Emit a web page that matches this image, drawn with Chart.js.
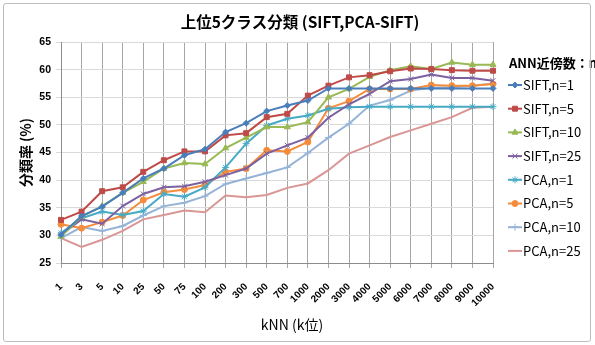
<!DOCTYPE html>
<html>
<head>
<meta charset="utf-8">
<script src="https://cdn.jsdelivr.net/npm/chart.js@4/dist/chart.umd.min.js"></script>
<style>
  html, body { margin: 0; padding: 0; background: #fff; }
  #wrap { position: relative; width: 595px; height: 345px; }
  #frame { position: absolute; left: 3px; top: 3px; width: 586px; height: 337px; border: 1px solid #bdbdbd; border-radius: 3px; pointer-events: none; }
  canvas { position: absolute; left: 0; top: 0; }
</style>
</head>
<body>
<div id="wrap">
  <canvas id="c" width="595" height="345"></canvas>
  <div id="frame"></div>
</div>
<script>
const categories = ['1', '3', '5', '10', '25', '50', '75', '100', '200', '300', '500', '700', '1000', '2000', '3000', '4000', '5000', '6000', '7000', '8000', '9000', '10000'];

const siftN1 = [30.1, 33.5, 35.2, 37.7, 40.3, 42.1, 44.5, 45.6, 48.7, 50.3, 52.5, 53.5, 54.4, 56.6, 56.6, 56.6, 56.6, 56.6, 56.6, 56.6, 56.6, 56.6];
const siftN5 = [32.8, 34.3, 38.0, 38.7, 41.5, 43.6, 45.2, 45.2, 48.1, 48.5, 51.4, 52.0, 55.3, 57.1, 58.6, 59.0, 59.7, 60.2, 60.1, 59.9, 59.8, 59.8];
const siftN10 = [29.8, 33.4, 35.3, 37.7, 39.7, 42.1, 43.1, 42.9, 45.8, 47.7, 49.6, 49.6, 50.5, 55.0, 56.5, 58.7, 59.9, 60.6, 60.1, 61.3, 60.9, 60.9];
const siftN25 = [30.1, 32.9, 32.1, 35.3, 37.5, 38.7, 38.9, 39.7, 40.9, 42.1, 44.8, 46.3, 47.7, 51.3, 53.7, 55.6, 57.9, 58.3, 59.1, 58.5, 58.5, 58.0];
const pcaN1 = [30.4, 33.1, 34.3, 33.7, 34.4, 37.5, 37.0, 38.7, 42.3, 46.6, 49.9, 51.1, 51.7, 52.9, 53.2, 53.3, 53.3, 53.3, 53.3, 53.3, 53.3, 53.3];
const pcaN5 = [32.0, 31.3, 32.4, 33.6, 36.4, 37.8, 38.3, 39.1, 41.5, 42.1, 45.4, 45.2, 46.9, 53.0, 54.3, 56.5, 56.5, 56.5, 57.2, 57.1, 57.1, 57.4];
const pcaN10 = [29.5, 31.5, 30.8, 31.7, 33.6, 35.3, 35.9, 37.1, 39.3, 40.3, 41.3, 42.3, 44.9, 47.7, 50.2, 53.5, 54.5, 56.2, 56.7, 56.8, 57.1, 57.5];
const pcaN25 = [29.5, 27.9, 29.2, 30.8, 32.9, 33.7, 34.5, 34.2, 37.2, 36.9, 37.3, 38.6, 39.4, 41.8, 44.8, 46.3, 47.8, 49.0, 50.2, 51.4, 53.1, 53.3];

const yMin = 25, yMax = 65, yStep = 5;

const seriesDefs = [
  { label: 'SIFT,n=1', data: siftN1, color: '#4a7ebb', point: 'rectRot', radius: 3 },
  { label: 'SIFT,n=5', data: siftN5, color: '#be4b48', point: 'rect', radius: 3.5 },
  { label: 'SIFT,n=10', data: siftN10, color: '#98b954', point: 'triangle', radius: 3.5 },
  { label: 'SIFT,n=25', data: siftN25, color: '#7d60a0', point: 'crossRot', radius: 3.5 },
  { label: 'PCA,n=1', data: pcaN1, color: '#46aac5', point: 'star', radius: 3.5 },
  { label: 'PCA,n=5', data: pcaN5, color: '#f58c3c', point: 'circle', radius: 3 },
  { label: 'PCA,n=10', data: pcaN10, color: '#95b3d7', point: 'cross', radius: 3.5 },
  { label: 'PCA,n=25', data: pcaN25, color: '#d99694', point: 'circle', radius: 0 },
];

// Excel-style legend on the right, plus the chart title and x axis title,
// which Excel centres on the whole chart rather than on the plot area
const sideLegend = {
  id: 'sideLegend',
  afterDraw(chart) {
    const ctx = chart.ctx;
    const x0 = 500, y0 = 63, rowH = 23.7;
    ctx.save();
    ctx.fillStyle = '#000';
    ctx.textBaseline = 'middle';
    ctx.font = 'bold 13px "Noto Sans CJK JP"';
    ctx.fillText('ANN近傍数：n', x0 + 9, y0);
    ctx.font = '13px "Noto Sans CJK JP"';
    chart.data.datasets.forEach((ds, i) => {
      const y = y0 + 22 + i * rowH;
      ctx.strokeStyle = ds.borderColor;
      ctx.lineWidth = 2;
      ctx.beginPath();
      ctx.moveTo(x0 + 8, y);
      ctx.lineTo(x0 + 22, y);
      ctx.stroke();
      if (ds.pointRadius > 0) {
        ctx.fillStyle = ds.borderColor;
        ctx.lineWidth = 1;
        Chart.helpers.drawPoint(ctx, { pointStyle: ds.pointStyle, radius: ds.pointRadius, rotation: 0, borderWidth: 1 }, x0 + 15, y);
      }
      ctx.fillStyle = '#000';
      ctx.fillText(ds.label, x0 + 23, y);
    });
    ctx.textAlign = 'center';
    ctx.font = '14px "Noto Sans CJK JP"';
    ctx.fillText('kNN (k位)', 292, 325);
    ctx.font = 'bold 15.5px "Noto Sans CJK JP"';
    ctx.fillText('上位5クラス分類 (SIFT,PCA-SIFT)', 300, 22);
    ctx.restore();
  },
};

new Chart(document.getElementById('c'), {
  type: 'line',
  data: {
    labels: categories,
    datasets: seriesDefs.map(s => ({
      label: s.label,
      data: s.data,
      borderColor: s.color,
      backgroundColor: s.color,
      pointStyle: s.point,
      pointRadius: s.radius,
      pointBorderWidth: 1,
      borderWidth: 2,
      tension: 0,
    })),
  },
  options: {
    responsive: false,
    animation: false,
    layout: { padding: { left: 0, right: 102, top: 42, bottom: 0 } },
    plugins: {
      legend: { display: false },
      tooltip: { enabled: false },
      title: { display: false },
    },
    scales: {
      x: {
        offset: false,
        afterFit: s => { s.height = 82; },
        grid: { color: '#a6a6a6', tickLength: 5, drawOnChartArea: true },
        border: { color: '#8c8c8c' },
        ticks: {
          color: '#000',
          autoSkip: false,
          maxRotation: 45,
          minRotation: 45,
          padding: 13,
          font: { family: '"Liberation Sans"', size: 10, weight: 'bold' },
        },
      },
      y: {
        min: yMin,
        max: yMax,
        afterFit: s => { s.width = 61; },
        grid: { color: '#d9d9d9', tickLength: 5 },
        border: { color: '#8c8c8c' },
        ticks: {
          stepSize: yStep,
          color: '#000',
          padding: 5,
          font: { family: '"Liberation Sans"', size: 10.5, weight: 'bold' },
        },
        title: {
          display: true,
          text: '分類率 (%)',
          color: '#000',
          padding: { top: 17, bottom: 0 },
          font: { family: '"Noto Sans CJK JP"', size: 14, weight: 'bold' },
        },
      },
    },
  },
  plugins: [sideLegend],
});
</script>
</body>
</html>
